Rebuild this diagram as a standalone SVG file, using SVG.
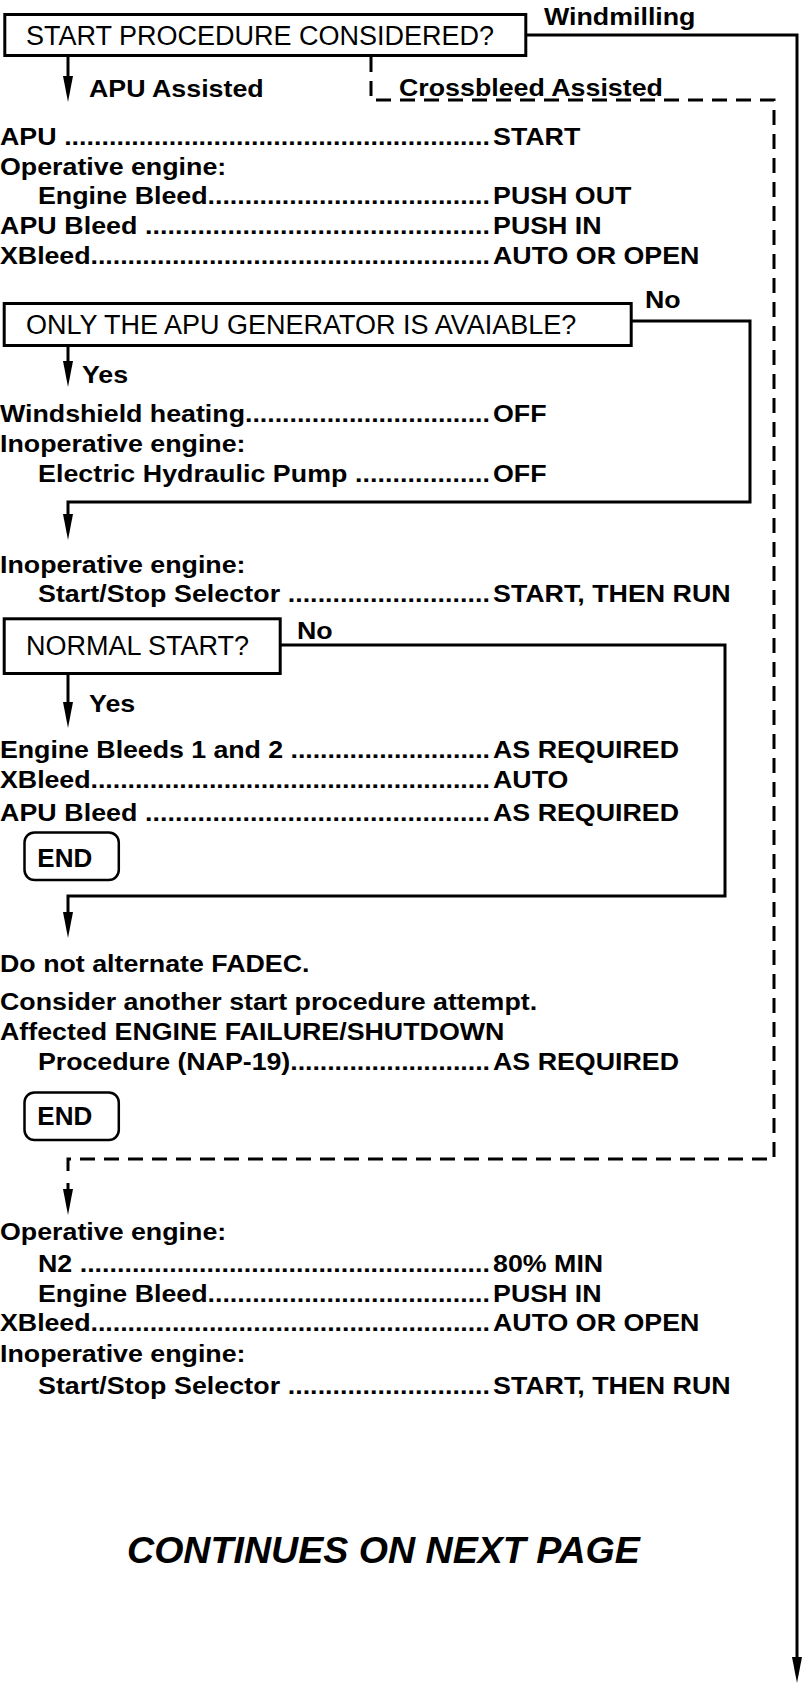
<svg xmlns="http://www.w3.org/2000/svg" width="804" height="1685" viewBox="0 0 804 1685">
<defs>
<style>
.box{fill:#fff;stroke:#000;stroke-width:3}
.endb{fill:#fff;stroke:#000;stroke-width:2.5}
.q{font-family:"Liberation Sans",Arial,sans-serif;font-size:27px;fill:#000}
.b{font-family:"Liberation Sans",Arial,sans-serif;font-weight:bold;font-size:23.5px;fill:#000}
.e{font-family:"Liberation Sans",Arial,sans-serif;font-weight:bold;font-size:26px;fill:#000}
.c{font-family:"Liberation Sans",Arial,sans-serif;font-weight:bold;font-style:italic;font-size:37.6px;fill:#000}
.ln{fill:none;stroke:#000;stroke-width:3}
.ar{marker-end:url(#ah)}
.dash{stroke-dasharray:15 9}
</style>
<marker id="ah" markerUnits="userSpaceOnUse" viewBox="0 0 26 10" refX="16" refY="5" markerWidth="26" markerHeight="10" orient="auto"><path d="M0,0 L26,5 L0,10 z" fill="#000"/></marker>
</defs>
<rect width="804" height="1685" fill="#fff"/>

<g id="connectors">
<path class="ln ar" d="M68,57 V92"/>
<path class="ln ar" d="M527,35 H797 V1673"/>
<path class="ln dash" d="M371,57 V100 H774 V1159 H68 V1172"/>
<path class="ln ar" d="M68,347 V377"/>
<path class="ln ar" d="M632,321 H750 V502 H68 V530"/>
<path class="ln ar" d="M68,675 V718"/>
<path class="ln ar" d="M281,645 H725 V896 H68 V928"/>
<path class="ln ar" d="M68,1183 V1205"/>
<g transform="scale(1.14 1)">
<text class="b" x="477.2" y="25">Windmilling</text>
<text class="b" x="78.1" y="97">APU Assisted</text>
<text class="b" x="350" y="96">Crossbleed Assisted</text>
<text class="b" x="565.8" y="308">No</text>
<text class="b" x="71.9" y="383">Yes</text>
<text class="b" x="260.5" y="639">No</text>
<text class="b" x="78.1" y="712">Yes</text>
</g>
</g>

<g id="q-start">
<rect class="box" x="4.8" y="14.5" width="521" height="41"/>
<text class="q" x="26" y="44.5">START PROCEDURE CONSIDERED?</text>
</g>

<g id="steps-apu">
<g transform="scale(1.14 1)">
<text class="b" x="0" y="145" textLength="429.8" lengthAdjust="spacing">APU .........................................................</text>
<text class="b" x="432.5" y="145">START</text>
<text class="b" x="0" y="175">Operative engine:</text>
<text class="b" x="33.3" y="204" textLength="396.5" lengthAdjust="spacing">Engine Bleed......................................</text>
<text class="b" x="432.5" y="204">PUSH OUT</text>
<text class="b" x="0" y="234" textLength="429.8" lengthAdjust="spacing">APU Bleed ..............................................</text>
<text class="b" x="432.5" y="234">PUSH IN</text>
<text class="b" x="0" y="264" textLength="429.8" lengthAdjust="spacing">XBleed......................................................</text>
<text class="b" x="432.5" y="264">AUTO OR OPEN</text>
</g>
</g>

<g id="q-apu-gen">
<rect class="box" x="4.2" y="303.5" width="627" height="42"/>
<text class="q" x="26" y="334">ONLY THE APU GENERATOR IS AVAIABLE?</text>
</g>

<g id="steps-apu-gen">
<g transform="scale(1.14 1)">
<text class="b" x="0" y="422" textLength="429.8" lengthAdjust="spacing">Windshield heating.................................</text>
<text class="b" x="432.5" y="422">OFF</text>
<text class="b" x="0" y="452">Inoperative engine:</text>
<text class="b" x="33.3" y="482" textLength="396.5" lengthAdjust="spacing">Electric Hydraulic Pump ..................</text>
<text class="b" x="432.5" y="482">OFF</text>
</g>
</g>

<g id="steps-start">
<g transform="scale(1.14 1)">
<text class="b" x="0" y="573">Inoperative engine:</text>
<text class="b" x="33.3" y="602" textLength="396.5" lengthAdjust="spacing">Start/Stop Selector ...........................</text>
<text class="b" x="432.5" y="602">START, THEN RUN</text>
</g>
</g>

<g id="q-normal">
<rect class="box" x="4.2" y="618.8" width="276" height="54.7"/>
<text class="q" x="26" y="655">NORMAL START?</text>
</g>

<g id="steps-normal">
<g transform="scale(1.14 1)">
<text class="b" x="0" y="758" textLength="429.8" lengthAdjust="spacing">Engine Bleeds 1 and 2 ...........................</text>
<text class="b" x="432.5" y="758">AS REQUIRED</text>
<text class="b" x="0" y="788" textLength="429.8" lengthAdjust="spacing">XBleed......................................................</text>
<text class="b" x="432.5" y="788">AUTO</text>
<text class="b" x="0" y="821" textLength="429.8" lengthAdjust="spacing">APU Bleed ..............................................</text>
<text class="b" x="432.5" y="821">AS REQUIRED</text>
</g>
</g>

<g id="end-1">
<rect class="endb" x="24.5" y="832.5" width="94.3" height="47.6" rx="10"/>
<text class="e" x="37.3" y="866.5">END</text>
</g>

<g id="steps-abnormal">
<g transform="scale(1.14 1)">
<text class="b" x="0" y="972">Do not alternate FADEC.</text>
<text class="b" x="0" y="1010">Consider another start procedure attempt.</text>
<text class="b" x="0" y="1040">Affected ENGINE FAILURE/SHUTDOWN</text>
<text class="b" x="33.3" y="1070" textLength="396.5" lengthAdjust="spacing">Procedure (NAP-19)...........................</text>
<text class="b" x="432.5" y="1070">AS REQUIRED</text>
</g>
</g>

<g id="end-2">
<rect class="endb" x="24.5" y="1092.5" width="94.3" height="47.6" rx="10"/>
<text class="e" x="37.3" y="1125">END</text>
</g>

<g id="steps-crossbleed">
<g transform="scale(1.14 1)">
<text class="b" x="0" y="1240">Operative engine:</text>
<text class="b" x="33.3" y="1272" textLength="396.5" lengthAdjust="spacing">N2 .......................................................</text>
<text class="b" x="432.5" y="1272">80% MIN</text>
<text class="b" x="33.3" y="1302" textLength="396.5" lengthAdjust="spacing">Engine Bleed......................................</text>
<text class="b" x="432.5" y="1302">PUSH IN</text>
<text class="b" x="0" y="1331" textLength="429.8" lengthAdjust="spacing">XBleed......................................................</text>
<text class="b" x="432.5" y="1331">AUTO OR OPEN</text>
<text class="b" x="0" y="1362">Inoperative engine:</text>
<text class="b" x="33.3" y="1394" textLength="396.5" lengthAdjust="spacing">Start/Stop Selector ...........................</text>
<text class="b" x="432.5" y="1394">START, THEN RUN</text>
</g>
</g>

<g id="continues">
<text class="c" x="127" y="1563">CONTINUES ON NEXT PAGE</text>
</g>
</svg>
